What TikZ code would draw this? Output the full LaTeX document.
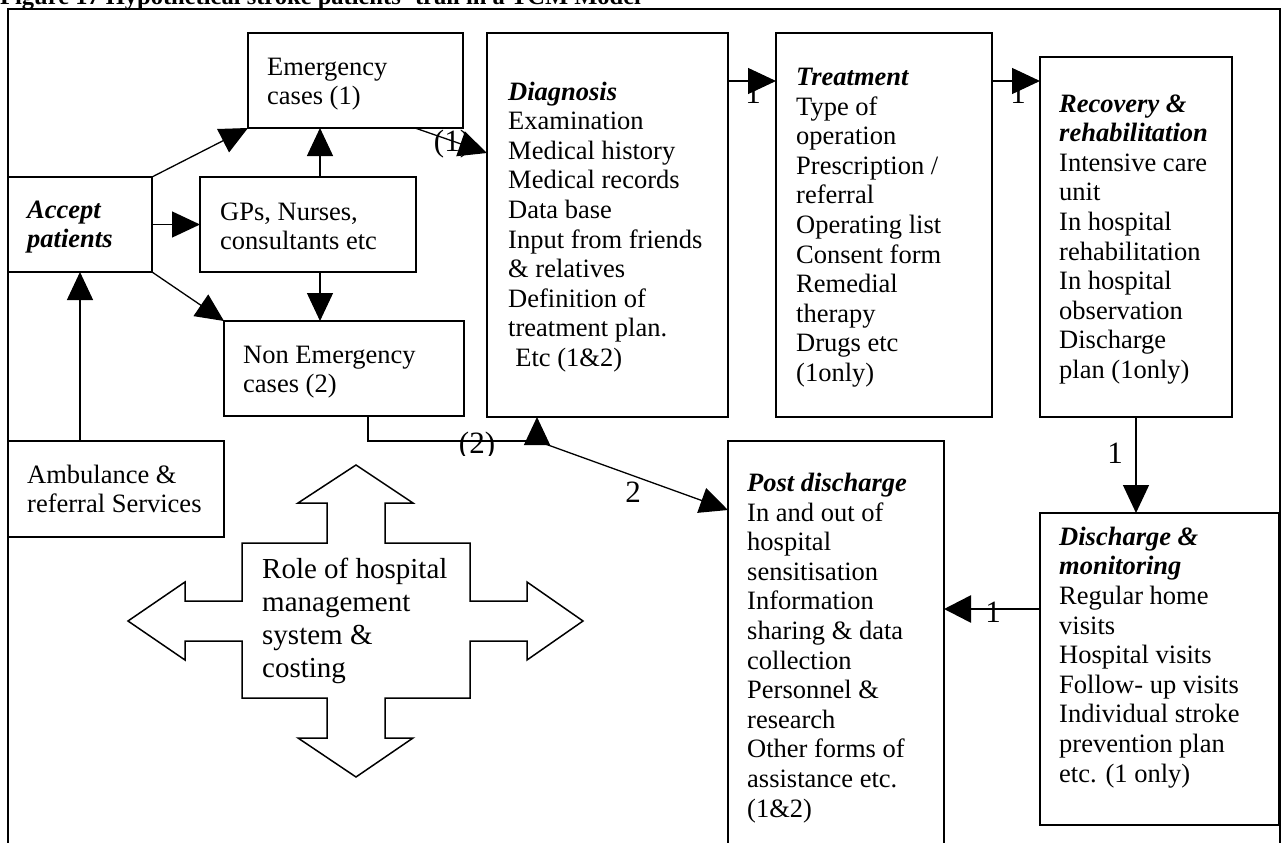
\documentclass[tikz,border=0pt]{standalone}
\usepackage{fontspec}
\setmainfont{Liberation Serif}
\usetikzlibrary{arrows.meta,calc}

\tikzset{
  box/.style={draw, line width=1.5pt, rectangle, inner sep=0pt, outer sep=0pt},
  % multi-line texts are placed by the baseline of their last line
  txt/.style={align=left, inner sep=0pt, anchor=base west,
              font=\fontsize{26.5}{29.6}\selectfont},
  lbl/.style={inner sep=0pt, font=\fontsize{31}{31}\selectfont},
  conn/.style={line width=1.3pt},
  arr/.style={conn, -{Triangle[length=28pt,width=26pt]}},
  arrthick/.style={line width=2.6pt, -{Triangle[length=27pt,width=27pt]}},
  bigarrow/.style={draw, line width=1.5pt, fill=white}
}
% rectangle node from its corners: name, x1, y1, x2, y2
\newcommand\boxnode[5]{%
  \node[box, minimum width={#4-#2}, minimum height={#5-#3}] (#1)
    at ({(#2+#4)/2},{(#3+#5)/2}) {};}
\newcommand\hd[1]{\textbf{\textit{#1}}}

\begin{document}
\begin{tikzpicture}[x=1pt,y=-1pt]
\useasboundingbox (0,0) rectangle (1283,843);
\clip (0,0) rectangle (1283,843);

% caption line
\node[inner sep=0pt, anchor=base west, font=\fontsize{24.5}{24.5}\selectfont\bfseries]
  (title) at (0,4.5) {Figure 17 Hypothetical stroke patients' trail in a TCM Model};

% outer frame
\draw[line width=2pt] (8,900) |- (1280,9) -- (1280,900);

% boxes
\boxnode{emer}{248}{33}{463}{128}
\boxnode{acc}{8}{177}{152}{272}
\boxnode{gps}{200}{177}{416}{272}
\boxnode{nonem}{224}{321}{464}{416}
\boxnode{amb}{8}{441}{224}{537}
\boxnode{diag}{487}{33}{728}{417}
\boxnode{treat}{776}{33}{992}{417}
\boxnode{recov}{1040}{57}{1232}{417}
\boxnode{post}{728}{441}{944}{880}
\boxnode{disch}{1040}{513}{1279}{825}

% box texts
\node[txt] (emerT) at (267,104.6) {Emergency\\cases (1)};
\node[txt] (accT) at (27,247.6) {\hd{Accept}\\\hd{patients}};
\node[txt] (gpsT) at (220,249.6) {GPs, Nurses,\\consultants etc};
\node[txt] (nonemT) at (243,392.6) {Non Emergency\\cases (2)};
\node[txt] (ambT) at (27,512.6) {Ambulance \&\\referral Services};
\node[txt] (diagT) at (508,366.4) {\hd{Diagnosis}\\Examination\\Medical history\\Medical records\\Data base\\Input from friends\\\& relatives\\Definition of\\treatment plan.\\\hspace*{0.27em}Etc (1\&2)};
\node[txt] (treatT) at (796,381.5) {\hd{Treatment}\\Type of\\operation\\Prescription /\\referral\\Operating list\\Consent form\\Remedial\\therapy\\Drugs etc\\(1only)};
\node[txt] (recovT) at (1059,378.4) {\hd{Recovery \&}\\\hd{rehabilitation}\\Intensive care\\unit\\In hospital\\rehabilitation\\In hospital\\observation\\Discharge\\plan (1only)};
\node[txt] (postT) at (747,817) {\hd{Post discharge}\\In and out of\\hospital\\sensitisation\\Information\\sharing \& data\\collection\\Personnel \&\\research\\Other forms of\\assistance etc.\\(1\&2)};
\node[txt] (dischT) at (1059,782) {\hd{Discharge \&}\\\hd{monitoring}\\Regular home\\visits\\Hospital visits\\Follow- up visits\\Individual stroke\\prevention plan\\etc. (1 only)};

% four-way arrow
\path[bigarrow] (356,465) -- (413,503) -- (385,503) -- (385,543) -- (470,543)
  -- (470,601) -- (527,601) -- (527,582) -- (583,621) -- (527,660) -- (527,641)
  -- (470,641) -- (470,698) -- (385,698) -- (385,738) -- (413,738) -- (356,777)
  -- (298,738) -- (327,738) -- (327,698) -- (242,698) -- (242,641) -- (185,641)
  -- (185,660) -- (128,621) -- (185,582) -- (185,601) -- (242,601) -- (242,543)
  -- (327,543) -- (327,503) -- (298,503) -- cycle;
\node[txt, font=\fontsize{29}{33}\selectfont] (roleT) at (262,677)
  {Role of hospital\\management\\system \&\\costing};

% connector labels
\node[lbl] (l1) at (452,144) {(1)};
\begin{scope}
  \clip (440,425) rectangle (520,455);
  \node[lbl] (l2) at (477,446.5) {(2)};
\end{scope}
\node[lbl, anchor=base] (l3) at (633,502) {2};
\node[lbl, anchor=base] (l4) at (753,103) {1};
\node[lbl, anchor=base] (l5) at (1018,103) {1};
\node[lbl, anchor=base] (l6) at (1115,463) {1};
\node[lbl, anchor=base] (l7) at (993,622) {1};

% connectors
\draw[arr] (acc.north east) -- (emer.south west);
\draw[arr] (acc.east) -- (gps.west);
\draw[arr] (acc.south east) -- (nonem.north west);
\draw[arr] ($(gps.north west)+(120,0)$) -- ($(emer.south west)+(72,0)$);
\draw[arr] ($(gps.south west)+(120,0)$) -- ($(nonem.north west)+(96,0)$);
\draw[arr] ($(amb.north west)+(72,0)$) -- ($(acc.south west)+(72,0)$);
\draw[arr] ($(emer.south west)+(167,0)$) -- ($(diag.north west)+(0,120)$);
\draw[arr] ($(diag.north east)+(0,48)$) -- ($(treat.north west)+(0,48)$);
\draw[arr] ($(treat.north east)+(0,48)$) -- ($(recov.north west)+(0,24)$);
\draw[arr] (recov.south) -- (recov.south |- disch.north);
\coordinate (d1) at ($(disch.north west)+(0,96)$);
\draw[arrthick] (d1) -- (d1 -| post.east);
\coordinate (j2) at (537,441);
\draw[conn] ($(nonem.south west)+(144,0)$) |- (j2);
\draw[arr] (j2) -- (j2 |- diag.south);
\draw[arr] (j2) -- ($(post.north west)+(0,69)$);
\end{tikzpicture}
\end{document}
